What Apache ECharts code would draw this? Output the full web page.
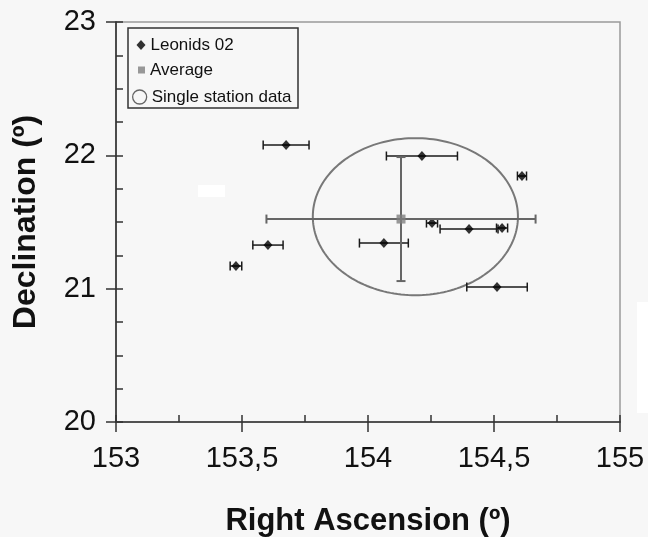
<!DOCTYPE html>
<html>
<head>
<meta charset="utf-8">
<script src="https://cdn.jsdelivr.net/npm/echarts@6/dist/echarts.min.js"></script>
<style>html,body{margin:0;padding:0;background:#f7f7f7;}#chart{width:648px;height:537px;}</style>
</head>
<body>
<div id="chart"></div>
<script>
// Right Ascension tick labels / range
const xTickLabels = ['153', '153,5', '154', '154,5', '155'];
const yTickLabels = ['20', '21', '22', '23'];

// Leonids 02 single-station radiants
const raValues  = [153.675, 154.214, 154.611, 154.254, 154.401, 154.532, 154.063, 153.603, 153.476, 154.512];
const decValues = [22.077, 21.995, 21.845, 21.492, 21.447, 21.455, 21.342, 21.327, 21.170, 21.012];
const raErrors  = [0.091, 0.141, 0.018, 0.022, 0.115, 0.022, 0.097, 0.060, 0.023, 0.120];

// Average radiant
const avgRa = [154.131];
const avgDec = [21.522];
const avgRaErr = [0.534];
const avgDecErr = [0.465];

// Single station data ellipse: centre RA, centre Dec, semi-axis RA, semi-axis Dec
const ellipseParams = [154.188, 21.540, 0.407, 0.589];

const FONT = '"Liberation Sans", Arial, sans-serif';

const leonidsData = raValues.map((r, i) => [r, decValues[i]]);
const leonidsErrData = raValues.map((r, i) => [r, decValues[i], raErrors[i]]);
const avgData = avgRa.map((r, i) => [r, avgDec[i]]);
const avgErrData = avgRa.map((r, i) => [r, avgDec[i], avgRaErr[i], avgDecErr[i]]);

function lineEl(x1, y1, x2, y2, color, w) {
  return {type: 'line', shape: {x1, y1, x2, y2}, style: {stroke: color, lineWidth: w}};
}

const chart = echarts.init(document.getElementById('chart'), null, {renderer: 'canvas'});

const commonX = {
  type: 'value', min: 153, max: 155, interval: 0.5,
  splitLine: {show: false}
};
const commonY = {
  type: 'value', min: 20, max: 23, interval: 1,
  splitLine: {show: false}
};

chart.setOption({
  backgroundColor: '#f7f7f7',
  animation: false,
  grid: {left: 116, right: 28, top: 22, bottom: 115, containLabel: false, outerBoundsMode: 'none',
         show: true, borderColor: '#9a9a9a', borderWidth: 1.5, backgroundColor: 'transparent'},
  xAxis: [
    Object.assign({}, commonX, {
      position: 'bottom',
      name: 'Right Ascension (º)', nameLocation: 'middle', nameGap: 84,
      nameTextStyle: {fontFamily: FONT, fontSize: 31, fontWeight: 'bold', color: '#111'},
      axisLine: {show: true, lineStyle: {color: '#333', width: 1.6}},
      axisTick: {show: true, inside: true, length: 7, lineStyle: {color: '#333', width: 1.5}},
      minorTick: {show: true, splitNumber: 2, length: 7, lineStyle: {color: '#333', width: 1.5}},
      axisLabel: {
        margin: 22, fontFamily: FONT, fontSize: 29, color: '#111',
        formatter: v => xTickLabels[Math.round((v - 153) / 0.5)]
      }
    }),
    Object.assign({}, commonX, {
      position: 'bottom',
      axisLine: {show: false},
      axisTick: {show: true, inside: false, length: 10, lineStyle: {color: '#333', width: 1.5}},
      axisLabel: {show: false}
    })
  ],
  yAxis: [
    Object.assign({}, commonY, {
      position: 'left',
      name: 'Declination (º)', nameLocation: 'middle', nameGap: 74, nameRotate: 90,
      nameTextStyle: {fontFamily: FONT, fontSize: 32, fontWeight: 'bold', color: '#111'},
      axisLine: {show: true, lineStyle: {color: '#333', width: 1.6}},
      axisTick: {show: true, inside: true, length: 7, lineStyle: {color: '#333', width: 1.5}},
      minorTick: {show: true, splitNumber: 4, length: 7, lineStyle: {color: '#333', width: 1.5}},
      axisLabel: {
        margin: 20, fontFamily: FONT, fontSize: 29, color: '#111',
        formatter: v => yTickLabels[Math.round(v - 20)]
      }
    }),
    Object.assign({}, commonY, {
      position: 'left',
      axisLine: {show: false},
      axisTick: {show: true, inside: false, length: 10, lineStyle: {color: '#333', width: 1.5}},
      axisLabel: {show: false}
    })
  ],
  legend: [
    {
      left: 136.5, top: 35, padding: 0, itemWidth: 9, itemHeight: 10,
      data: [{name: 'Leonids 02', icon: 'diamond'}],
      textStyle: {fontFamily: FONT, fontSize: 17, color: '#111', lineHeight: 20},
      selectedMode: false
    },
    {
      left: 138, top: 60, padding: 0, itemWidth: 7, itemHeight: 7,
      data: [{name: 'Average', icon: 'rect'}],
      textStyle: {fontFamily: FONT, fontSize: 17, color: '#111', lineHeight: 20},
      selectedMode: false
    },
    {
      left: 132, top: 87, padding: 0, itemWidth: 14, itemHeight: 14,
      data: [{name: 'Single station data', icon: 'circle', itemStyle: {color: 'transparent', borderColor: '#666', borderWidth: 1.3}}],
      textStyle: {fontFamily: FONT, fontSize: 17, color: '#111', lineHeight: 20},
      selectedMode: false
    }
  ],
  graphic: [
    {type: 'rect', shape: {x: 128, y: 28, width: 170, height: 80}, style: {fill: 'transparent', stroke: '#333', lineWidth: 1.5}, z: 1},
    {type: 'rect', shape: {x: 198, y: 185, width: 27, height: 12}, style: {fill: '#ffffff'}, z: 0},
    {type: 'rect', shape: {x: 637, y: 302, width: 11, height: 111}, style: {fill: '#ffffff'}, z: 0}
  ],
  series: [
    {
      name: 'Single station data', type: 'custom', xAxisIndex: 0, yAxisIndex: 0,
      itemStyle: {color: '#777'},
      data: [ellipseParams],
      renderItem: function (params, api) {
        const cx = api.value(0), cy = api.value(1), rx = api.value(2), ry = api.value(3);
        const pts = [];
        for (let i = 0; i < 180; i++) {
          const t = 2 * Math.PI * i / 180;
          pts.push(api.coord([cx + rx * Math.cos(t), cy + ry * Math.sin(t)]));
        }
        return {type: 'polygon', shape: {points: pts}, style: {fill: 'none', stroke: '#787878', lineWidth: 2}};
      },
      z: 2
    },
    {
      name: 'Leonids 02 errors', type: 'custom', xAxisIndex: 0, yAxisIndex: 0,
      data: leonidsErrData,
      renderItem: function (params, api) {
        const x = api.value(0), y = api.value(1), e = api.value(2);
        const a = api.coord([x - e, y]), b = api.coord([x + e, y]);
        const h = 4.5, c = '#1a1a1a', w = 1.5;
        return {type: 'group', children: [
          lineEl(a[0], a[1], b[0], b[1], c, w),
          lineEl(a[0], a[1] - h, a[0], a[1] + h, c, w),
          lineEl(b[0], b[1] - h, b[0], b[1] + h, c, w)
        ]};
      },
      z: 3
    },
    {
      name: 'Leonids 02', type: 'scatter', xAxisIndex: 0, yAxisIndex: 0,
      symbol: 'diamond', symbolSize: [9, 10],
      itemStyle: {color: '#000'},
      data: leonidsData, z: 4
    },
    {
      name: 'Average errors', type: 'custom', xAxisIndex: 0, yAxisIndex: 0,
      data: avgErrData,
      renderItem: function (params, api) {
        const x = api.value(0), y = api.value(1), ex = api.value(2), ey = api.value(3);
        const l = api.coord([x - ex, y]), r = api.coord([x + ex, y]);
        const t = api.coord([x, y + ey]), b = api.coord([x, y - ey]);
        const h = 4.5, c = '#666', w = 2;
        return {type: 'group', children: [
          lineEl(l[0], l[1], r[0], r[1], c, w),
          lineEl(l[0], l[1] - h, l[0], l[1] + h, c, w),
          lineEl(r[0], r[1] - h, r[0], r[1] + h, c, w),
          lineEl(t[0], t[1], b[0], b[1], c, w),
          lineEl(t[0] - h, t[1], t[0] + h, t[1], c, w),
          lineEl(b[0] - h, b[1], b[0] + h, b[1], c, w)
        ]};
      },
      z: 5
    },
    {
      name: 'Average', type: 'scatter', xAxisIndex: 0, yAxisIndex: 0,
      symbol: 'rect', symbolSize: 9,
      itemStyle: {color: '#808080'},
      data: avgData, z: 6
    }
  ]
});
</script>
</body>
</html>
